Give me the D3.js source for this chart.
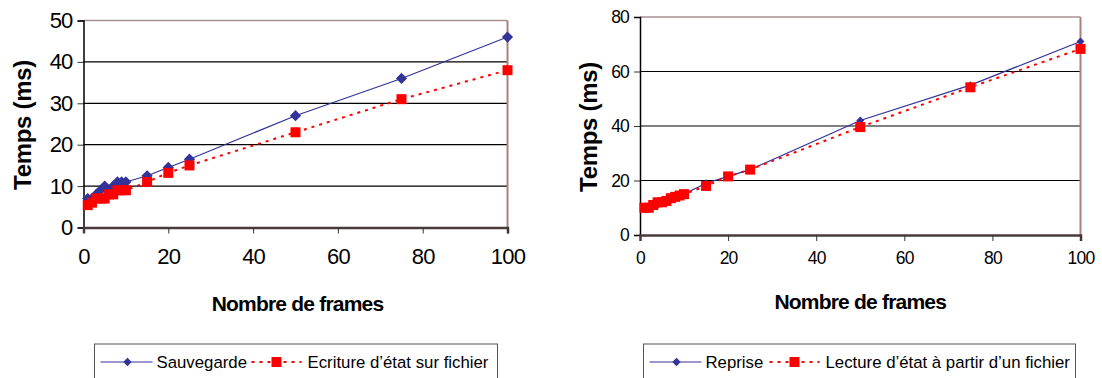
<!DOCTYPE html>
<html>
<head>
<meta charset="utf-8">
<script src="https://cdn.jsdelivr.net/npm/d3@7"></script>
<style>
  body { margin: 0; background: #fff; }
  svg { font-family: "Liberation Sans", Arial, sans-serif; }
</style>
</head>
<body>
<div id="chart-area"></div>
<script>
// frames (x values) shared by both charts
const frames = [1, 2, 3, 4, 5, 6, 7, 8, 9, 10, 15, 20, 25, 50, 75, 100];

// left chart
const sauvegarde = [7, 7, 8, 9, 10, 9, 10, 11, 11, 11, 12.5, 14.5, 16.5, 27, 36, 46];
const ecriture   = [5.4, 6, 7, 7, 7, 8, 8, 9, 9, 9, 11, 13.2, 15, 23, 31, 38];

// right chart
const reprise = [10, 10, 11, 11, 12, 13, 13, 14, 15, 15, 19, 21.5, 24, 42, 55, 71];
const lecture = [10, 10, 11, 12, 12, 12.5, 13.5, 14, 14.5, 15, 18, 21.5, 24, 39.6, 54.2, 68.3];

const xTicks = [0, 20, 40, 60, 80, 100];
const yTicksLeft = [0, 10, 20, 30, 40, 50];
const yTicksRight = [0, 20, 40, 60, 80];

const svg = d3.select("#chart-area")
    .append("svg")
        .attr("width", 1102)
        .attr("height", 378);

function drawChart(opt) {
    const g = svg.append("g");

    const x = d3.scaleLinear().domain([0, 100]).range([opt.left, opt.right]);
    const y = d3.scaleLinear().domain([0, opt.yMax]).range([opt.bottom, opt.top]);

    // grid lines (black), skip 0 and top
    g.selectAll(".grid")
      .data(opt.yTicks.filter(d => d > 0 && d < opt.yMax))
      .enter()
      .append("line")
        .attr("x1", opt.left).attr("x2", opt.right)
        .attr("y1", d => y(d)).attr("y2", d => y(d))
        .attr("stroke", "#000")
        .attr("stroke-width", 1.2);

    // frame top / right
    g.append("line")
        .attr("x1", opt.left).attr("x2", opt.right)
        .attr("y1", opt.top).attr("y2", opt.top)
        .attr("stroke", "#a89090").attr("stroke-width", 1.5);
    g.append("line")
        .attr("x1", opt.right).attr("x2", opt.right)
        .attr("y1", opt.top).attr("y2", opt.bottom)
        .attr("stroke", "#a88080").attr("stroke-width", 2);

    // axes
    const yAxis = d3.axisLeft(y).tickValues(opt.yTicks).tickSize(6).tickPadding(5);
    const xAxis = d3.axisBottom(x).tickValues(xTicks).tickSize(6).tickPadding(opt.xPad);

    const ya = g.append("g")
        .attr("transform", `translate(${opt.left},0)`)
        .call(yAxis);
    ya.select(".domain").attr("stroke", "#000").attr("stroke-width", 1.5);
    ya.selectAll(".tick line").attr("stroke", "#333");
    ya.selectAll("text")
        .style("font-size", opt.tickFont + "px")
        .style("letter-spacing", "-0.8px")
        .attr("fill", "#000");

    const xa = g.append("g")
        .attr("transform", `translate(0,${opt.bottom})`)
        .call(xAxis);
    xa.select(".domain").attr("stroke", "#4a3a3a").attr("stroke-width", 2.5);
    xa.selectAll(".tick line").attr("stroke", "#333");
    xa.selectAll("text")
        .style("font-size", opt.tickFont + "px")
        .style("letter-spacing", "-0.8px")
        .attr("fill", "#000");

    ya.select(".domain").raise();
    xa.selectAll(".tick").filter(d => d === 0).select("line").remove();

    // axis titles
    g.append("text")
        .attr("x", (opt.left + opt.right) / 2 + opt.xTitleShift)
        .attr("y", opt.xTitleY)
        .attr("text-anchor", "middle")
        .style("font-size", "21px")
        .style("font-weight", "bold")
        .style("letter-spacing", "-0.8px")
        .text("Nombre de frames");

    g.append("text")
        .attr("transform", `translate(${opt.yTitleX},${opt.yTitleY}) rotate(-90)`)
        .attr("text-anchor", "middle")
        .style("font-size", "24px")
        .style("font-weight", "bold")
        .style("letter-spacing", "-0.3px")
        .text("Temps (ms)");

    const line = d3.line()
        .x((d, i) => x(frames[i]))
        .y(d => y(d));

    // series 1: blue line, diamonds
    g.append("path")
        .datum(opt.s1)
        .attr("fill", "none")
        .attr("stroke", "#333399")
        .attr("stroke-width", 1.2)
        .attr("d", line);

    // series 2: red dotted, squares
    g.append("path")
        .datum(opt.s2)
        .attr("fill", "none")
        .attr("stroke", "#ff0000")
        .attr("stroke-width", 2)
        .attr("stroke-dasharray", "3,5")
        .attr("d", line);

    const diamond = d3.symbol().type(d3.symbolDiamond2).size(opt.diaSize);

    g.selectAll(".dia")
      .data(opt.s1)
      .enter()
      .append("path")
        .attr("d", diamond)
        .attr("transform", (d, i) => `translate(${x(frames[i])},${y(d)})`)
        .attr("fill", "#333399");

    g.selectAll(".sq")
      .data(opt.s2)
      .enter()
      .append("rect")
        .attr("x", (d, i) => x(frames[i]) - opt.sq / 2)
        .attr("y", d => y(d) - opt.sq / 2)
        .attr("width", opt.sq)
        .attr("height", opt.sq)
        .attr("fill", "#ff0000");

    // legend
    const lg = g.append("g");
    lg.append("rect")
        .attr("x", opt.legX).attr("y", 344)
        .attr("width", opt.legW).attr("height", 40)
        .attr("fill", "#fff")
        .attr("stroke", "#555")
        .attr("stroke-width", 1);

    const ly = 362;
    lg.append("line")
        .attr("x1", opt.legX + 6).attr("x2", opt.legX + 58)
        .attr("y1", ly).attr("y2", ly)
        .attr("stroke", "#333399").attr("stroke-width", 1.2);
    lg.append("path")
        .attr("d", d3.symbol().type(d3.symbolDiamond2).size(45))
        .attr("transform", `translate(${opt.legX + 33},${ly})`)
        .attr("fill", "#333399");
    lg.append("text")
        .attr("x", opt.legX + 62).attr("y", ly)
        .attr("dy", "0.35em")
        .style("font-size", opt.legFont + "px")
        .text(opt.name1);

    const x2 = opt.legX + opt.leg2;
    lg.append("line")
        .attr("x1", x2).attr("x2", x2 + 50)
        .attr("y1", ly).attr("y2", ly)
        .attr("stroke", "#ff0000").attr("stroke-width", 2)
        .attr("stroke-dasharray", "3,5");
    lg.append("rect")
        .attr("x", x2 + 20).attr("y", ly - 5)
        .attr("width", 10).attr("height", 10)
        .attr("fill", "#ff0000");
    lg.append("text")
        .attr("x", x2 + 56).attr("y", ly)
        .attr("dy", "0.35em")
        .style("font-size", opt.legFont + "px")
        .text(opt.name2);
}

drawChart({
    left: 83.5, right: 507.5, top: 20.5, bottom: 227.5,
    yMax: 50, yTicks: yTicksLeft, tickFont: 22, xPad: 15,
    xTitleY: 311, xTitleShift: 2, yTitleX: 31, yTitleY: 125,
    s1: sauvegarde, s2: ecriture, diaSize: 80, sq: 10,
    legX: 94.5, legW: 403, leg2: 157, legFont: 16.8,
    name1: "Sauvegarde", name2: "Ecriture d’état sur fichier"
});

drawChart({
    left: 640, right: 1080.5, top: 17, bottom: 235,
    yMax: 80, yTicks: yTicksRight, tickFont: 17.5, xPad: 11,
    xTitleY: 309, xTitleShift: 0, yTitleX: 597, yTitleY: 127,
    s1: reprise, s2: lecture, diaSize: 40, sq: 10,
    legX: 643.5, legW: 432, leg2: 126, legFont: 16.8,
    name1: "Reprise", name2: "Lecture d’état à partir d’un fichier"
});
</script>
</body>
</html>
